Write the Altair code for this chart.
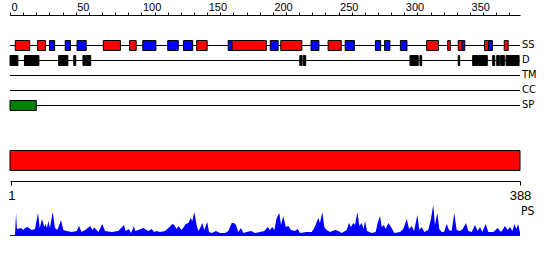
import altair as alt
import pandas as pd

seq_len = 388
track_names = ["SS", "D", "TM", "CC", "SP"]

# secondary structure: H = helix (red), E = strand (blue)
ss_start = [4, 21, 30, 42, 51, 71, 91, 101, 120, 132, 142, 166, 169, 198, 206, 229, 242, 255,
            278, 285, 297, 317, 333, 341, 344, 361, 364, 376]
ss_end = [15, 27, 34, 46, 58, 84, 96, 111, 128, 139, 150, 169, 195, 204, 222, 235, 252, 262,
          282, 289, 302, 326, 335, 344, 346, 364, 367, 379]
ss_type = ["H", "H", "E", "E", "E", "H", "H", "E", "E", "E", "H", "E", "H", "E", "H", "E", "H", "E",
           "E", "E", "E", "H", "H", "H", "E", "H", "E", "H"]

# disorder
dis_start = [0, 11, 37, 48.5, 55.5, 58, 220.5, 223.2, 304.3, 311.9, 341, 352, 356.8, 367.2, 370.3, 373.3, 377.4]
dis_end = [6, 22, 44, 50, 57.3, 61.4, 222.2, 225, 310.6, 313.2, 342.1, 356.3, 363.1, 368.8, 372.3, 376.1, 387.3]

# signal peptide
sp_start = [0]
sp_end = [20]

# domain bar
dom_start = [0]
dom_end = [388]

# PS profile
ps_pos = [3.8, 4.6, 5.3, 8.4, 10.1, 11.4, 13.4, 16.5, 19.0, 21.3, 22.6, 24.3, 26.1, 27.1, 28.1, 29.2,
          30.4, 32.5, 34.2, 36.0, 38.8, 40.6, 43.1, 46.9, 50.7, 52.5, 54.5, 57.1, 61.1, 62.6, 64.2, 67.2,
          70.2, 72.3, 77.4, 82.4, 86.7, 88.0, 90.5, 92.1, 94.3,
          95.1, 97.6, 101.4, 105.2, 107.8, 109.8, 111.6, 114.1, 117.9, 120.5, 123.5, 125.0, 126.8, 128.1,
          130.6, 133.7, 135.7, 137.5, 138.7, 140.2, 142.0, 143.3, 144.6, 146.3, 147.8, 150.1, 151.4, 153.4,
          156.7, 159.8, 163.6, 166.1, 168.7, 170.4, 171.9, 173.7, 175.7, 177.5, 180.1, 183.4, 186.4, 190.2, 193.5,
          196.0, 197.8, 199.6, 201.1, 202.9, 204.9, 206.2, 207.9, 209.8, 211.7, 213.8, 216.8, 218.9, 220.6,
          225.7, 229.5, 231.5, 233.3, 234.6, 235.8, 237.6, 239.1, 240.9, 243.5, 247.3, 249.8, 252.3, 256.1,
          257.9, 259.4, 261.2, 262.5, 264.3, 265.8, 267.6, 268.9, 270.1, 271.6, 275.2, 278.2, 279.7, 281.5,
          282.8, 284.5, 285.8, 287.8, 289.9, 292.4,
          296.7, 299.2, 301.8, 303.6, 305.6, 307.4, 309.9, 311.4, 313.2, 315.2, 318.2, 320.1, 322.0, 323.3,
          325.1, 326.6, 328.4, 330.2, 332.2, 334.0, 336.0, 338.0, 339.8, 342.4, 344.4, 346.9, 348.7, 351.3,
          353.8, 355.8, 357.6, 359.3, 361.9, 363.9, 367.7, 371.0, 373.6, 376.6, 378.6, 380.4, 382.2, 383.7,
          385.2, 386.6, 388.0]
ps_val = [0, 22, 6, 7, 5, 7, 8, 5, 6, 22, 7, 16, 8, 11, 7, 14,
          7, 23, 7, 5, 15, 5, 4, 3, 4, 9, 3, 5, 9, 5, 7.6, 3,
          11, 4, 3, 4, 10, 4, 6, 2, 9,
          4, 5, 7, 4, 6, 3, 4, 3, 4, 7, 11, 10, 6, 9,
          5, 11, 12, 17, 14, 23, 10, 4, 7, 12, 5, 13, 3, 2,
          4, 2, 2, 4, 12, 12, 10, 3, 7, 2, 3, 4, 2, 3, 4,
          8, 5, 8, 5, 17, 22, 10, 19, 8, 9, 5, 4, 6, 2,
          3, 3, 7, 13, 17, 12, 23, 8, 5, 3, 5, 4, 2, 5,
          12, 8, 12, 10, 23, 9, 12, 6, 14, 4, 2, 3, 12, 19,
          8, 10, 6, 12, 8, 2,
          3, 6, 16, 6, 9, 4, 20, 5, 8, 3, 5, 15, 30, 10,
          22, 6, 3, 3, 11, 5, 4, 22, 5, 4, 6, 12, 4, 3,
          10, 4, 8, 3, 11, 3, 3, 7, 3, 9, 5, 8, 4, 11,
          6, 11, 2]

axis_top_ticks = list(range(0, 381, 10))
axis_bottom_ticks = [1, 388]

FONT = "Liberation Sans, Arial, sans-serif"
NARROW = "Liberation Sans Narrow, DejaVu Sans Condensed, Liberation Sans, sans-serif"

xs = alt.Scale(domain=[0, seq_len], nice=False, zero=False)

ss_df = pd.DataFrame({"start": ss_start, "end": ss_end, "type": ss_type})
dis_df = pd.DataFrame({"start": dis_start, "end": dis_end})
sp_df = pd.DataFrame({"start": sp_start, "end": sp_end})
dom_df = pd.DataFrame({"start": dom_start, "end": dom_end})
ps_df = pd.DataFrame({"pos": ps_pos, "score": ps_val})

track_y = {"SS": 30.5, "D": 45.5, "TM": 60.5, "CC": 75.5, "SP": 90.5}

top_axis = alt.Axis(orient="top", values=axis_top_ticks,
                    labelExpr="datum.value % 50 == 0 ? datum.label : ''",
                    tickSize=3, labelAlign="left", labelBaseline="alphabetic", labelPadding=2,
                    labelOffset=1, labelFontSize=11, labelFont=FONT, labelColor="black",
                    domainColor="black", tickColor="black", title=None, grid=False,
                    labelFlush=False, labelOverlap=False, labelBound=False)

bottom_axis = alt.Axis(orient="bottom", values=axis_bottom_ticks, offset=-56,
                       tickSize=4, labelPadding=4, labelFontSize=13, labelFont=FONT,
                       labelColor="black", domainColor="black", tickColor="black",
                       title=None, grid=False, labelFlush=False, labelOverlap=False, labelBound=False)

layers = []
for i, name in enumerate(track_names):
    df = pd.DataFrame({"start": [0], "end": [seq_len], "name": [name]})
    base = alt.Chart(df)
    layers.append(base.mark_rule(color="black", strokeWidth=1).encode(
        x=alt.X("start:Q", scale=xs, axis=top_axis if i == 0 else None),
        x2="end:Q",
        y=alt.value(track_y[name])))
    layers.append(base.mark_text(align="left", baseline="middle", dx=2, font=NARROW,
                                 fontSize=11, color="black").encode(
        x=alt.X("end:Q", scale=xs, axis=None),
        y=alt.value(track_y[name] - 0.5),
        text="name:N"))

layers.append(alt.Chart(ss_df).mark_rect(stroke="black", strokeWidth=1).encode(
    x=alt.X("start:Q", scale=xs, axis=None), x2="end:Q",
    y=alt.value(25.5), y2=alt.value(35.5),
    color=alt.Color("type:N", scale=alt.Scale(domain=["H", "E"], range=["#ff0000", "#0000ff"]),
                    legend=None)))

layers.append(alt.Chart(dis_df).mark_rect(stroke="black", strokeWidth=1, color="black").encode(
    x=alt.X("start:Q", scale=xs, axis=None), x2="end:Q",
    y=alt.value(40.5), y2=alt.value(50.5)))

layers.append(alt.Chart(sp_df).mark_rect(stroke="black", strokeWidth=1, color="#008000").encode(
    x=alt.X("start:Q", scale=xs, axis=None), x2="end:Q",
    y=alt.value(85.5), y2=alt.value(95.5)))

layers.append(alt.Chart(dom_df).mark_rect(stroke="black", strokeWidth=1, color="#ff0000").encode(
    x=alt.X("start:Q", scale=xs, axis=bottom_axis), x2="end:Q",
    y=alt.value(135.5), y2=alt.value(155.5)))

layers.append(alt.Chart(ps_df).mark_area(color="#0000ff", interpolate="linear").encode(
    x=alt.X("pos:Q", scale=xs, axis=None),
    y=alt.Y("score:Q", scale=alt.Scale(domain=[0, 30], range=[220, 190]), axis=None)))

layers.append(alt.Chart(dom_df).mark_rule(color="#0000ff", strokeWidth=1).encode(
    x=alt.X("start:Q", scale=xs, axis=None), x2="end:Q", y=alt.value(220.5)))

layers.append(alt.Chart(pd.DataFrame({"pos": [seq_len], "label": ["PS"]})).mark_text(
    align="left", baseline="middle", dx=1, font=NARROW, fontSize=12, color="black").encode(
    x=alt.X("pos:Q", scale=xs, axis=None), y=alt.value(196), text="label:N"))

chart = alt.layer(*layers).resolve_axis(x="independent").properties(
    width=510, height=222,
    padding={"left": 10, "top": 15, "right": 30, "bottom": 23},
    autosize=alt.AutoSizeParams(type="none"),
    background="white",
).configure_view(strokeWidth=0)

chart.save("out.html", embed_options={"renderer": "svg", "actions": False})
